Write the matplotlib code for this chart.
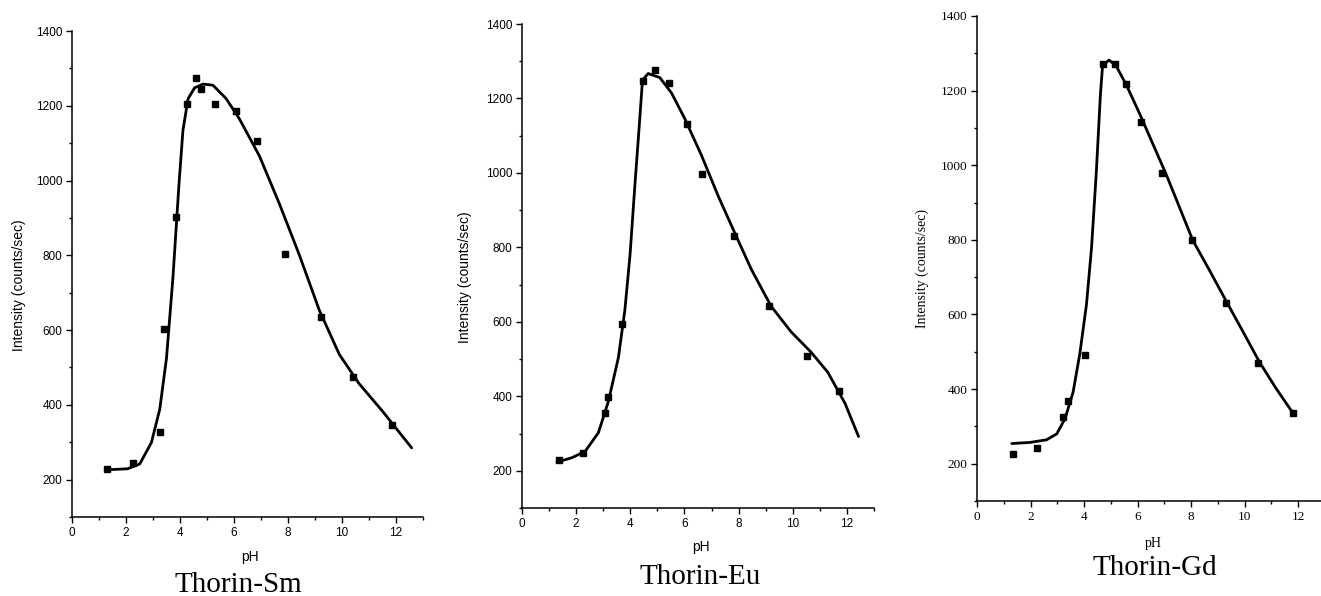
import matplotlib
matplotlib.use("Agg")
import matplotlib.pyplot as plt
from matplotlib.ticker import MultipleLocator

# Measured points (pH, intensity) for each complex
sm_ph = [1.28, 2.26, 3.25, 3.40, 3.84, 4.27, 4.58, 4.79, 5.31, 6.06, 6.84, 7.90, 9.22, 10.41, 11.87]
sm_int = [228, 245, 327, 602, 902, 1206, 1273, 1246, 1205, 1185, 1106, 804, 636, 475, 345]

eu_ph = [1.35, 2.26, 3.07, 3.19, 3.71, 4.47, 4.91, 5.42, 6.11, 6.65, 7.83, 9.14, 10.53, 11.69]
eu_int = [228, 247, 356, 397, 595, 1246, 1277, 1242, 1131, 997, 831, 642, 509, 415]

gd_ph = [1.34, 2.26, 3.22, 3.41, 4.03, 4.69, 5.14, 5.55, 6.14, 6.92, 8.02, 9.32, 10.50, 11.80]
gd_int = [226, 242, 324, 367, 490, 1270, 1272, 1219, 1116, 980, 799, 630, 469, 336]

# Fitted curves
sm_fit_ph = [1.23, 2.06, 2.51, 2.94, 3.25, 3.50, 3.74, 3.96, 4.11, 4.30, 4.54, 4.85, 5.22,
             5.71, 6.20, 6.94, 7.68, 8.42, 9.16, 9.90, 10.63, 11.50, 12.58]
sm_fit_int = [226, 229, 242, 299, 388, 525, 742, 988, 1135, 1219, 1248, 1258, 1255,
              1219, 1165, 1066, 938, 801, 653, 535, 457, 383, 285]

eu_fit_ph = [1.29, 1.84, 2.33, 2.82, 3.19, 3.56, 3.80, 3.99, 4.17, 4.32, 4.45, 4.66, 5.09,
             5.52, 6.01, 6.63, 7.24, 7.85, 8.47, 9.20, 9.94, 10.67, 11.29, 11.93, 12.43]
eu_fit_int = [223, 235, 252, 302, 386, 504, 632, 780, 968, 1116, 1249, 1267, 1256,
              1215, 1146, 1047, 939, 840, 741, 642, 573, 519, 465, 381, 292]

gd_fit_ph = [1.30, 1.98, 2.60, 2.98, 3.29, 3.59, 3.84, 4.09, 4.28, 4.46, 4.61, 4.69, 4.93,
             5.20, 5.58, 6.07, 6.57, 7.07, 7.56, 8.06, 8.68, 9.30, 9.92, 10.54, 11.16, 11.80]
gd_fit_int = [254, 257, 264, 280, 321, 392, 494, 627, 780, 985, 1189, 1266, 1282,
              1266, 1215, 1139, 1057, 975, 888, 799, 719, 637, 556, 474, 403, 336]

titles = ["Thorin-Sm", "Thorin-Eu", "Thorin-Gd"]
y_ticks = [200, 400, 600, 800, 1000, 1200, 1400]
x_ticks = [0, 2, 4, 6, 8, 10, 12]

W, H = 1321, 596


def px_axes(fig, left, right, top, bottom):
    return fig.add_axes([left / W, (H - bottom) / H, (right - left) / W, (bottom - top) / H])


def draw_panel(ax, ph, inten, fit_ph, fit_int, family, tick_size, msize):
    ax.plot(fit_ph, fit_int, color="black", lw=2.0, solid_joinstyle="round",
            solid_capstyle="round")
    ax.plot(ph, inten, ls="none", marker="s", ms=msize, color="black")
    ax.set_xlim(0, 13)
    ax.set_ylim(100, 1400)
    ax.set_xticks(x_ticks)
    ax.set_yticks(y_ticks)
    ax.xaxis.set_minor_locator(MultipleLocator(1))
    ax.yaxis.set_minor_locator(MultipleLocator(100))
    ax.tick_params(which="major", direction="out", length=4, width=1, pad=3,
                   labelsize=tick_size)
    ax.tick_params(which="minor", direction="out", length=2.5, width=1)
    for lab in ax.get_xticklabels() + ax.get_yticklabels():
        lab.set_family(family)
    ax.spines["top"].set_visible(False)
    ax.spines["right"].set_visible(False)
    ax.spines["left"].set_linewidth(1.1)
    ax.spines["bottom"].set_linewidth(1.1)
    ax.patch.set_alpha(0)


fig = plt.figure(figsize=(W / 100, H / 100), dpi=100)

ax1 = px_axes(fig, 72, 423, 31, 517)
draw_panel(ax1, sm_ph, sm_int, sm_fit_ph, sm_fit_int, "Liberation Sans", 8.5, 5)
ax2 = px_axes(fig, 522, 874, 24, 508)
draw_panel(ax2, eu_ph, eu_int, eu_fit_ph, eu_fit_int, "Liberation Sans", 8.5, 4)
ax3 = px_axes(fig, 977, 1325, 16, 501)
draw_panel(ax3, gd_ph, gd_int, gd_fit_ph, gd_fit_int, "Liberation Serif", 9.5, 4)

# axis labels and captions placed in pixel coordinates
ylabel_pos = [(19, 285, "Liberation Sans", 10), (465, 277, "Liberation Sans", 10),
              (922, 269, "Liberation Serif", 10)]
for x, y, fam, size in ylabel_pos:
    fig.text(x / W, 1 - y / H, "Intensity (counts/sec)", rotation=90, ha="center",
             va="center", family=fam, fontsize=size)

ph_pos = [(250, 557, "Liberation Sans", 10), (701, 547, "Liberation Sans", 10),
          (1153, 543, "Liberation Serif", 10)]
for x, y, fam, size in ph_pos:
    fig.text(x / W, 1 - y / H, "pH", ha="center", va="center", family=fam, fontsize=size)

title_pos = [(238, 585), (700, 577), (1155, 568)]
for (x, y), t in zip(title_pos, titles):
    fig.text(x / W, 1 - y / H, t, ha="center", va="center", family="Liberation Serif",
             fontsize=21)

fig.savefig("out.png", dpi=100)
